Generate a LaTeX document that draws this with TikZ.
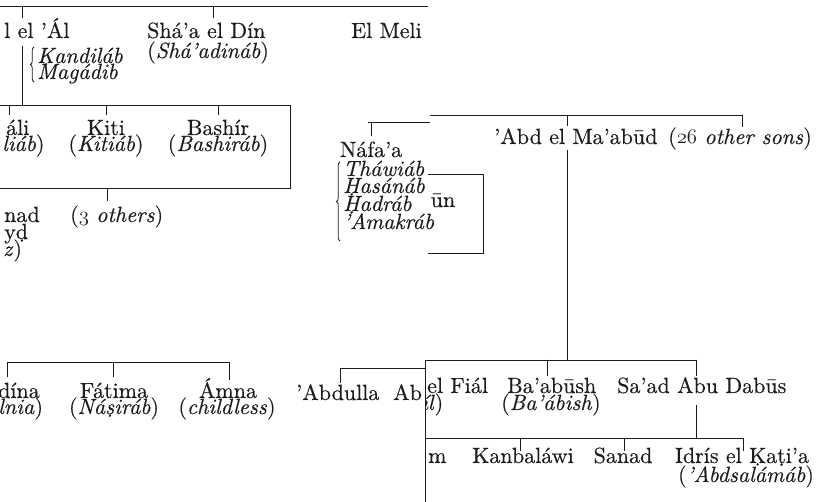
\documentclass[tikz,border=0pt]{standalone}
\usepackage{fontspec}
\setmainfont{lmroman10-regular.otf}[ItalicFont=lmroman10-italic.otf, FakeBold=0.35]
\usetikzlibrary{decorations.pathreplacing}
\definecolor{ink}{HTML}{1C1C1C}
% dot placed under a letter
\newcommand\udot[1]{\leavevmode\vtop{\baselineskip0pt\lineskip0.02ex\ialign{##\crcr#1\crcr\hidewidth.\hidewidth\crcr}}}
% old-style figures taken from the math italic font
\newcommand\osn[1]{{\fontencoding{OML}\fontfamily{cmm}\fontseries{m}\fontshape{it}\selectfont #1}}
\newcommand\fs{\fontsize{22}{24}\selectfont}
\tikzset{
  lbl/.style={inner sep=0pt, anchor=base west, text=ink, font=\fs},
  lblc/.style={lbl, anchor=base},
  ln/.style={draw=ink, line width=0.9pt},
  brc/.style={draw=ink, line width=0.75pt, decorate, decoration={brace, amplitude=3.5pt}},
}
\begin{document}
\begin{tikzpicture}[x=1pt, y=-1pt]
\useasboundingbox (0,0) rectangle (828,502);
\fill[white] (0,0) rectangle (828,502);

% ---------- upper left: el 'Al, Sha'a el Din, El Meli
\coordinate (topL) at (0,6);
\coordinate (topR) at (428,6);
\draw[ln] (topL) -- (topR);
\coordinate (tAl) at (22,6);
\coordinate (tSha) at (213,6);
\draw[ln] (tAl) -- ++(0,12);
\draw[ln] (tSha) -- ++(0,12);
\node[lbl] (elal) at (4,38) {l el ’Ál};
\node[lbl] (shaa) at (147,38) {Shá’a el Dín};
\node[lbl] (shaab) at (147,58) {(\textit{Shá’adináb})};
\node[lbl] (meli) at (351,38) {El Meli};

\coordinate (alTop) at (22,46);
\coordinate (alBot) at (22,105);
\draw[ln] (alTop) -- (alBot);
\coordinate (brA1) at (34,82);
\coordinate (brA2) at (34,47);
\draw[brc] (brA1) -- (brA2);
\node[lbl] (kand) at (37,63) {\textit{\udot{K}andiláb}};
\node[lbl] (maga) at (37,79) {\textit{Magádib}};

% ---------- sons of el 'Al
\coordinate (r2L) at (0,105);
\coordinate (r2R) at (290,105);
\coordinate (r2RB) at (290,188);
\coordinate (r2LB) at (0,188);
\draw[ln] (r2L) -- (r2R) -- (r2RB) -- (r2LB);
\foreach \x/\n in {9/ta,106/tb,218/tc} {
  \coordinate (\n) at (\x,105);
  \draw[ln] (\n) -- ++(0,10);
}
\node[lbl] (ali) at (6,135) {áli};
\node[lbl] (aliab) at (2,151) {\textit{liáb})};
\node[lblc] (kiti) at (106,135) {Kiti};
\node[lblc] (kitiab) at (106,151) {(\textit{Kitiáb})};
\node[lblc] (bashir) at (218,135) {Bashír};
\node[lblc] (bashirab) at (218,151) {(\textit{Bashiráb})};

\coordinate (t3o) at (107,188);
\draw[ln] (t3o) -- ++(0,13);
\node[lbl] (nad) at (4,222) {nad};
\node[lbl] (oth) at (70,222) {(\osn{3} \textit{others})};
\node[lbl] (yd) at (4,239) {y\udot{d}};
\node[lbl] (zz) at (3,256) {\textit{z})};

% ---------- Nafa'a and his sections
\coordinate (nfL) at (368,122);
\coordinate (nfR) at (430,122);
\draw[ln] (nfL) -- (nfR);
\coordinate (nfT) at (371,122);
\draw[ln] (nfT) -- ++(0,14);
\node[lblc] (nafaa) at (371,157) {Náfa’a};
\coordinate (brB1) at (340,241);
\coordinate (brB2) at (340,162);
\draw[brc] (brB1) -- (brB2);
\node[lbl] (thaw) at (343,176) {\textit{Tháwiáb}};
\node[lbl] (hasa) at (343,193) {\textit{\udot{H}asánáb}};
\node[lbl] (hadr) at (343,211) {\textit{\udot{H}adráb}};
\node[lbl] (amak) at (343,229) {\textit{’Amakráb}};

% fragment box with "tun"
\coordinate (bxA) at (428,174);
\coordinate (bxB) at (483,174);
\coordinate (bxC) at (483,253);
\coordinate (bxD) at (428,253);
\draw[ln] (bxA) -- (bxB) -- (bxC) -- (bxD);
\begin{scope}
  \clip (430,160) rectangle (482,250);
  \node[lbl] (tun) at (422,207) {tūn};
\end{scope}

% ---------- 'Abd el Ma'abud and 26 other sons
\coordinate (mbL) at (430,115);
\coordinate (mbR) at (743,115);
\draw[ln] (mbL) -- (mbR);
\coordinate (tAbd) at (567,115);
\coordinate (tSons) at (742,115);
\draw[ln] (tAbd) -- ++(0,11);
\draw[ln] (tSons) -- ++(0,12);
\node[lbl] (abd) at (494,144) {’Abd el Ma’abūd};
\node[lbl] (sons) at (668,144) {(\osn{26} \textit{other sons})};
\coordinate (abdDown) at (567,150);
\coordinate (abdJoin) at (567,360);
\draw[ln] (abdDown) -- (abdJoin);

% ---------- lower left: daughters
\coordinate (dL) at (7,362);
\coordinate (dR) at (230,362);
\draw[ln] (dL) -- (dR);
\foreach \x/\n/\h in {7/da/15,113/db/15,229/dc/18} {
  \coordinate (\n) at (\x,362);
  \draw[ln] (\n) -- ++(0,\h);
}
\node[lbl] (dina) at (-2,398) {dína};
\node[lbl] (dinab) at (-2,414) {\textit{lnia})};
\node[lblc] (fatima) at (114,398) {Fátima};
\node[lblc] (fatimab) at (114,414) {(\textit{Ná\udot{s}iráb})};
\node[lblc] (amna) at (228,398) {Ámna};
\node[lblc] (amnab) at (227,414) {(\textit{childless})};

% 'Abdulla
\coordinate (adL) at (340,368);
\coordinate (adR) at (425,368);
\draw[ln] (adL) -- (adR);
\draw[ln] (adL) -- ++(0,15);
\node[lbl] (abdulla) at (296,400) {’Abdulla};
\node[lbl] (ab) at (393,400) {Ab};

% ---------- lower right: sons of 'Abd el Ma'abud
\fill[white] (425,360) rectangle (828,502);
\coordinate (bbL) at (425,502);
\coordinate (bbTL) at (425,360);
\coordinate (bbTR) at (697,360);
\draw[ln] (bbL) -- (bbTL) -- (bbTR);
\coordinate (tBa) at (547,360);
\coordinate (tSa) at (696,360);
\draw[ln] (tBa) -- ++(0,16);
\draw[ln] (tSa) -- ++(0,16);
\begin{scope}
  \clip (426,360) rectangle (828,502);
  \node[lbl] (fial) at (427,393) {el Fiál};
  \node[lbl] (fialb) at (421,410) {\textit{íl})};
  \node[lbl] (mm) at (428,463) {m};
\end{scope}
\node[lbl] (baab) at (507,393) {Ba’abūsh};
\node[lbl] (baabb) at (501,410) {(\textit{Ba’ábish})};
\node[lbl] (saad) at (617,393) {Sa’ad Abu Dabūs};
\coordinate (saDown) at (696,405);
\coordinate (saJoin) at (696,438);
\draw[ln] (saDown) -- (saJoin);

\coordinate (kL) at (425,438);
\coordinate (kR) at (743,438);
\draw[ln] (kL) -- (kR);
\foreach \x/\n in {520/ka,624/kb,743/kc} {
  \coordinate (\n) at (\x,438);
  \draw[ln] (\n) -- ++(0,13);
}
\node[lblc] (kanb) at (523,463) {Kanbaláwi};
\node[lblc] (sanad) at (623,463) {Sanad};
\node[lblc] (idris) at (742,463) {Idrís el \udot{K}a\udot{t}i’a};
\node[lblc] (idrisb) at (746,482) {(\textit{’Abdsalámáb})};
\end{tikzpicture}
\end{document}
